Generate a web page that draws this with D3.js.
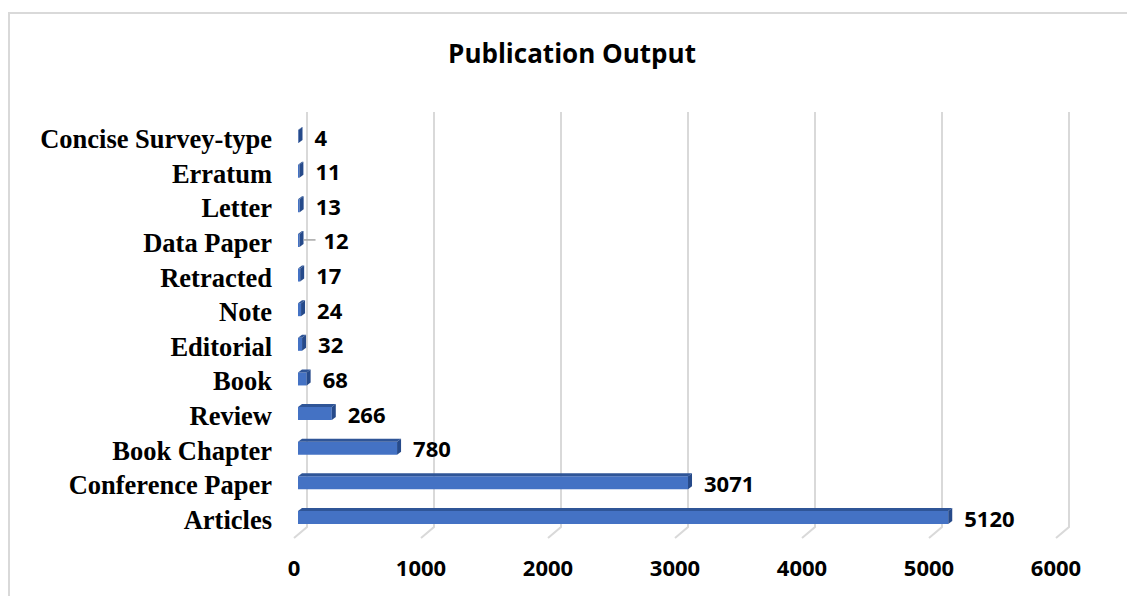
<!DOCTYPE html>
<html>
<head>
<meta charset="utf-8">
<script src="https://cdn.jsdelivr.net/npm/d3@7"></script>
<style>
  html, body { margin: 0; padding: 0; background: #fff; }
  svg { display: block; }
</style>
</head>
<body>
<svg id="chart" width="1127" height="596"></svg>
<script>
// Publication counts by document type (top row first)
const categories = [
  "Concise Survey-type", "Erratum", "Letter", "Data Paper", "Retracted", "Note",
  "Editorial", "Book", "Review", "Book Chapter", "Conference Paper", "Articles"
];
const counts = [4, 11, 13, 12, 17, 24, 32, 68, 266, 780, 3071, 5120];
const tickValues = [0, 1000, 2000, 3000, 4000, 5000, 6000];
const leaderLabels = ["Data Paper"];
const chartTitle = "Publication Output";

const svg = d3.select("#chart");
const W = 1127, H = 596;

// Outer chart frame (runs off the right and bottom edges)
svg.append("rect")
  .attr("x", 9).attr("y", 13)
  .attr("width", W + 20).attr("height", H + 20)
  .attr("fill", "#fff")
  .attr("stroke", "#d9d9d9").attr("stroke-width", 2);

// 3D depth offsets: back wall vs. floor front edge
const depthDX = 13, depthDY = 11;
const wallTop = 112, wallBottom = 527;

const xWall = d3.scaleLinear().domain([0, 6000]).range([307, 1069]);
const xBar = d3.scaleLinear().domain([0, 6000]).range([298, 1060]);
const y = d3.scalePoint().domain(categories).range([135, 516]);
const barH = 16, topH = 3, sideW = 4;

// Title
svg.append("text")
  .attr("x", 572).attr("y", 63)
  .attr("text-anchor", "middle")
  .attr("font-family", "'Open Sans', sans-serif")
  .attr("font-weight", 700)
  .attr("font-size", 26)
  .attr("fill", "#000")
  .text(chartTitle);

// Gridlines on the back wall, bending down onto the floor
const grid = svg.append("g").attr("fill", "none")
  .attr("stroke", "#d9d9d9").attr("stroke-width", 2);
grid.selectAll("path").data(tickValues).join("path")
  .attr("d", d => {
    const x = xWall(d);
    return `M${x},${wallTop}L${x},${wallBottom}L${x - depthDX},${wallBottom + depthDY}`;
  });

// Axis tick labels along the front edge of the floor
svg.append("g")
  .selectAll("text").data(tickValues).join("text")
  .attr("x", d => xWall(d) - depthDX)
  .attr("y", 576)
  .attr("text-anchor", "middle")
  .attr("font-family", "'Open Sans', sans-serif")
  .attr("font-weight", 700)
  .attr("font-size", 22)
  .attr("fill", "#000")
  .text(d => d3.format("d")(d));

// Category labels
svg.append("g")
  .selectAll("text").data(categories).join("text")
  .attr("x", 272)
  .attr("y", d => y(d) + 13)
  .attr("text-anchor", "end")
  .attr("font-family", "'Liberation Serif', 'Times New Roman', serif")
  .attr("font-weight", 700)
  .attr("font-size", 26.5)
  .attr("fill", "#000")
  .text(d => d);

// 3D bars: front face, top face and right side face
const rows = categories.map((c, i) => ({ cat: c, value: counts[i] }));
const bars = svg.append("g").selectAll("g").data(rows).join("g");

bars.append("path")
  .attr("fill", "#4472c4")
  .attr("d", d => {
    const x0 = xBar(0), x1 = xBar(d.value);
    const y0 = y(d.cat) - barH / 2 + topH, y1 = y(d.cat) + barH / 2;
    return `M${x0},${y0}L${x1},${y0}L${x1},${y1}L${x0},${y1}Z`;
  });

bars.append("path")
  .attr("fill", "#2f5597")
  .attr("d", d => {
    const x0 = xBar(0), x1 = xBar(d.value);
    const yt = y(d.cat) - barH / 2, yf = yt + topH;
    return `M${x0},${yf}L${x0 + sideW},${yt}L${x1 + sideW},${yt}L${x1},${yf}Z`;
  });

bars.append("path")
  .attr("fill", "#264a8a")
  .attr("d", d => {
    const x1 = xBar(d.value);
    const yt = y(d.cat) - barH / 2, yf = yt + topH, yb = y(d.cat) + barH / 2;
    return `M${x1},${yf}L${x1 + sideW},${yt}L${x1 + sideW},${yb - topH}L${x1},${yb}Z`;
  });

// Leader lines for labels pulled away from their bars
bars.filter(d => leaderLabels.includes(d.cat)).append("line")
  .attr("x1", d => xBar(d.value) + sideW)
  .attr("x2", d => xBar(d.value) + 16)
  .attr("y1", d => y(d.cat) + 1)
  .attr("y2", d => y(d.cat) + 1)
  .attr("stroke", "#a6a6a6").attr("stroke-width", 1.5);

// Value labels
bars.append("text")
  .attr("x", d => xBar(d.value) + sideW + (leaderLabels.includes(d.cat) ? 20 : 12))
  .attr("y", d => y(d.cat) + 10.5)
  .attr("font-family", "'Open Sans', sans-serif")
  .attr("font-weight", 700)
  .attr("font-size", 22)
  .attr("fill", "#000")
  .text(d => d.value);
</script>
</body>
</html>
